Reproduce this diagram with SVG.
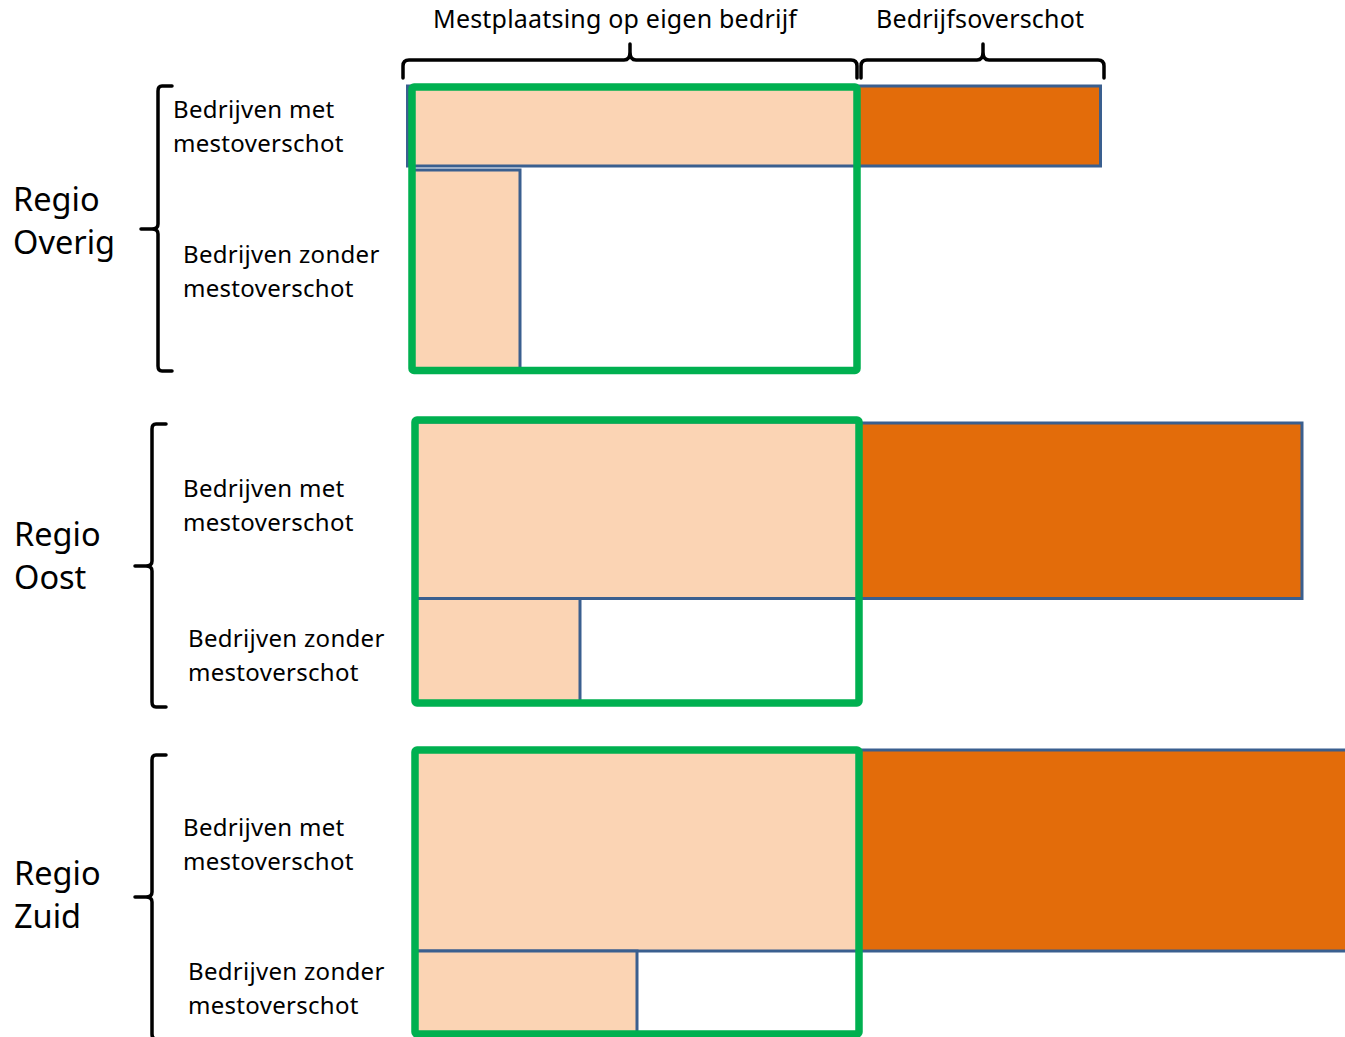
<svg xmlns="http://www.w3.org/2000/svg" width="1345" height="1037" viewBox="0 0 1345 1037">
<style>
.lbl{font-family:"Noto Sans","Open Sans","DejaVu Sans",sans-serif;font-size:24px;letter-spacing:0.3px;fill:#000}
.ttl{font-family:"Noto Sans","Open Sans","DejaVu Sans",sans-serif;font-size:25px;letter-spacing:0.2px;fill:#000}
.reg{font-family:"Noto Sans","Open Sans","DejaVu Sans",sans-serif;font-size:32.5px;fill:#000}
.peach{fill:#FBD4B4;stroke:#3A5F8F;stroke-width:3}
.orange{fill:#E36C0A;stroke:#3A5F8F;stroke-width:3}
.green{fill:none;stroke:#00B050;stroke-width:7.5;stroke-linejoin:round}
.brace{fill:none;stroke:#000;stroke-width:3.5;stroke-linecap:round;stroke-linejoin:round}
</style>
<rect width="1345" height="1037" fill="#fff"/>
<g id="header">
<text class="ttl" x="433" y="28">Mestplaatsing op eigen bedrijf</text>
<text class="ttl" x="876" y="28">Bedrijfsoverschot</text>
<path class="brace" d="M403,78 L403,66 Q403,60 409,60 L624,60 Q630,60 630,52 L630,44 M630,52 Q630,60 636,60 L851,60 Q857,60 857,66 L857,78"/>
<path class="brace" d="M861,78 L861,66 Q861,60 867,60 L977,60 Q983,60 983,52 L983,44 M983,52 Q983,60 989,60 L1098,60 Q1104,60 1104,66 L1104,78"/>
</g>
<g id="regio-overig">
<text class="reg" x="13" y="211">Regio</text>
<text class="reg" x="13" y="254">Overig</text>
<path class="brace" d="M172,86 L162,86 Q158,86 158,91 L158,224 Q158,229 152,229 L141,229 M152,229 Q158,229 158,234 L158,366 Q158,371 162,371 L172,371"/>
<text class="lbl" x="173" y="118">Bedrijven met</text>
<text class="lbl" x="173" y="152">mestoverschot</text>
<text class="lbl" x="183" y="263">Bedrijven zonder</text>
<text class="lbl" x="183" y="297">mestoverschot</text>
<rect class="peach" x="407.5" y="86" width="448" height="80"/>
<rect class="orange" x="855.5" y="86" width="245" height="80"/>
<rect class="peach" x="412" y="170" width="108" height="200"/>
<rect class="green" x="412" y="87" width="445" height="283.5" rx="2"/>
</g>
<g id="regio-oost">
<text class="reg" x="14" y="546">Regio</text>
<text class="reg" x="14" y="589">Oost</text>
<path class="brace" d="M166,424 L156,424 Q152,424 152,429 L152,561 Q152,566 146,566 L135,566 M146,566 Q152,566 152,571 L152,702 Q152,707 156,707 L166,707"/>
<text class="lbl" x="183" y="497">Bedrijven met</text>
<text class="lbl" x="183" y="531">mestoverschot</text>
<text class="lbl" x="188" y="647">Bedrijven zonder</text>
<text class="lbl" x="188" y="681">mestoverschot</text>
<rect class="peach" x="415" y="422" width="443" height="176.5"/>
<rect class="orange" x="858" y="423" width="444" height="175.5"/>
<rect class="peach" x="415" y="598.5" width="165" height="104"/>
<rect class="green" x="415" y="420" width="444" height="283" rx="2"/>
</g>
<g id="regio-zuid">
<text class="reg" x="14" y="885">Regio</text>
<text class="reg" x="14" y="928">Zuid</text>
<path class="brace" d="M166,755 L156,755 Q152,755 152,760 L152,892 Q152,897 146,897 L135,897 M146,897 Q152,897 152,902 L152,1034 Q152,1039 156,1039 L166,1039"/>
<text class="lbl" x="183" y="836">Bedrijven met</text>
<text class="lbl" x="183" y="870">mestoverschot</text>
<text class="lbl" x="188" y="980">Bedrijven zonder</text>
<text class="lbl" x="188" y="1014">mestoverschot</text>
<rect class="peach" x="415" y="750" width="443" height="201"/>
<rect class="orange" x="858" y="750" width="495" height="201"/>
<rect class="peach" x="415" y="951" width="222" height="84"/>
<rect class="green" x="415" y="750" width="444" height="284" rx="2"/>
</g>
</svg>
